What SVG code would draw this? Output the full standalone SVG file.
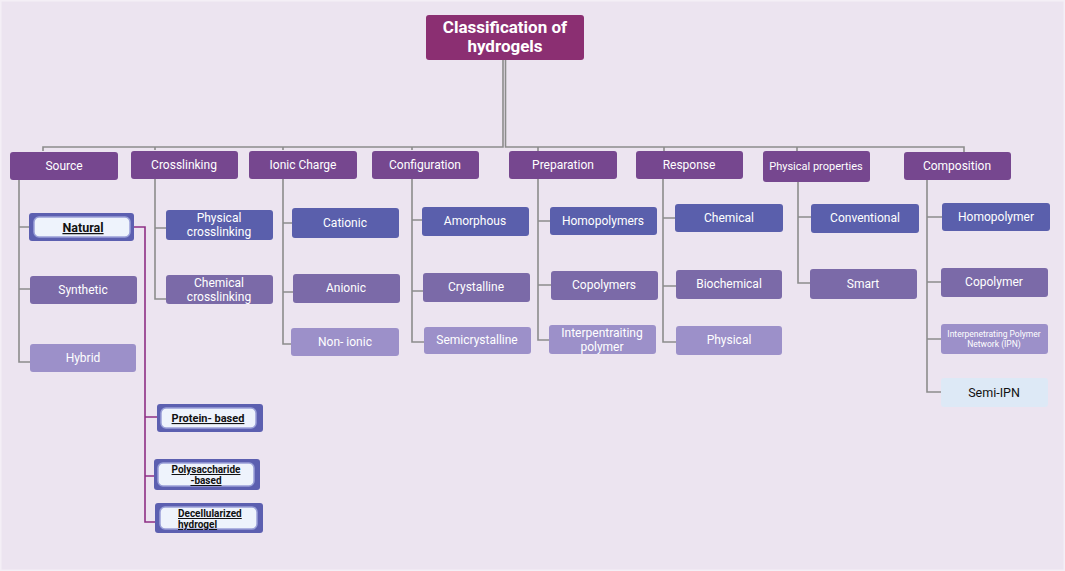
<svg xmlns="http://www.w3.org/2000/svg" width="1065" height="571" viewBox="0 0 1065 571">
<defs>
<style>
.bg{fill:#ece4f0}
.cat{fill:#76478f}
.r1{fill:#5a5fac}
.r2{fill:#7b6aa8}
.r3{fill:#9c90c9}
.t{font-family:Roboto,"Liberation Sans",sans-serif;font-size:12px;fill:#ffffff;text-anchor:middle}
.tb{font-family:Roboto,"Liberation Sans",sans-serif;font-weight:bold;fill:#111111;text-decoration:underline}
.ln{stroke:#8c8c8c;stroke-width:1.6;fill:none}
.pl{stroke:#8e2f85;stroke-width:1.6;fill:none}
.sp{fill:#5c5fb0}
.spi{fill:#eef3fc;stroke:#9aa0d8;stroke-width:1.5}
</style>
</defs>
<rect class="bg" x="0" y="0" width="1065" height="571"/>
<rect x="0.75" y="0.75" width="1063.5" height="569.5" fill="none" stroke="#f4eff6" stroke-width="1.5"/>

<g id="connectors">
<path class="ln" d="M503 60 V147 H43 V151 M155 147 V150 M283 147 V150 M412 147 V150"/>
<path class="ln" d="M505.5 60 V147 H964 V152 M538 147 V151 M664 147 V151 M797 147 V151"/>
<path class="ln" d="M19 180 V362 H30 M19 227 H29 M19 289 H30"/>
<path class="ln" d="M155 178 V299 H166 M155 228 H166"/>
<path class="ln" d="M283 178 V344 H291 M283 223 H292 M283 292 H293"/>
<path class="ln" d="M412 178 V342 H424 M412 220 H422 M412 291 H423"/>
<path class="ln" d="M538 179 V340 H549 M538 221 H550 M538 285 H551"/>
<path class="ln" d="M663 179 V342 H676 M663 218 H675 M663 286 H676"/>
<path class="ln" d="M798 181 V283 H810 M798 217 H811"/>
<path class="ln" d="M927 180 V392 H941 M927 217 H942 M927 282 H941 M927 339 H941"/>
<path class="pl" d="M134 227 H145 V522 H155 M145 417 H157 M145 476 H154"/>
</g>

<g id="title">
<rect x="426" y="15" width="158" height="45" rx="3" fill="#8b2f72"/>
<text x="505" y="33" font-family="Roboto,'Liberation Sans',sans-serif" font-size="17" font-weight="bold" fill="#fff" text-anchor="middle">Classification of</text>
<text x="505" y="52" font-family="Roboto,'Liberation Sans',sans-serif" font-size="17" font-weight="bold" fill="#fff" text-anchor="middle">hydrogels</text>
</g>

<g id="source"><rect class="cat" x="10" y="152" width="108" height="28" rx="3"/><text class="t" x="64" y="170">Source</text></g>
<g id="crosslinking"><rect class="cat" x="131" y="151" width="107" height="28" rx="3"/><text class="t" x="184" y="169">Crosslinking</text></g>
<g id="ionic-charge"><rect class="cat" x="249" y="151" width="108" height="28" rx="3"/><text class="t" x="303" y="169">Ionic Charge</text></g>
<g id="configuration"><rect class="cat" x="372" y="151" width="107" height="28" rx="3"/><text class="t" x="425" y="169">Configuration</text></g>
<g id="preparation"><rect class="cat" x="509" y="151" width="108" height="28" rx="3"/><text class="t" x="563" y="169">Preparation</text></g>
<g id="response"><rect class="cat" x="636" y="151" width="107" height="28" rx="3"/><text class="t" x="689" y="169">Response</text></g>
<g id="physical-properties"><rect class="cat" x="763" y="151" width="107" height="31" rx="3"/><text class="t" x="816" y="170" style="font-size:11px">Physical properties</text></g>
<g id="composition"><rect class="cat" x="904" y="152" width="107" height="28" rx="3"/><text class="t" x="957" y="170">Composition</text></g>

<g id="natural"><rect class="sp" x="29" y="213" width="105" height="28" rx="3"/><rect class="spi" x="34" y="217" width="96" height="20" rx="5"/><text class="tb" x="83" y="232" font-size="12.5" text-anchor="middle">Natural</text></g>
<g id="synthetic"><rect class="r2" x="30" y="276" width="107" height="28" rx="3"/><text class="t" x="83" y="294">Synthetic</text></g>
<g id="hybrid"><rect class="r3" x="30" y="344" width="106" height="28" rx="3"/><text class="t" x="83" y="362">Hybrid</text></g>

<g id="protein-based"><rect class="sp" x="157" y="404" width="106" height="28" rx="3"/><rect class="spi" x="161" y="408" width="95" height="20" rx="5"/><text class="tb" x="208" y="422" font-size="11" text-anchor="middle">Protein- based</text></g>
<g id="polysaccharide-based"><rect class="sp" x="154" y="459" width="106" height="31" rx="3"/><rect class="spi" x="158" y="463" width="96" height="23" rx="5"/><text class="tb" x="206" y="473" font-size="10" text-anchor="middle">Polysaccharide</text><text class="tb" x="206" y="484" font-size="10" text-anchor="middle">-based</text></g>
<g id="decellularized-hydrogel"><rect class="sp" x="155" y="503" width="108" height="30" rx="3"/><rect class="spi" x="160" y="507" width="97" height="22" rx="5"/><text class="tb" x="178" y="517" font-size="10">Decellularized </text><text class="tb" x="178" y="528" font-size="10">hydrogel</text></g>

<g id="physical-crosslinking"><rect class="r1" x="166" y="210" width="107" height="30" rx="3"/><text class="t" x="219" y="222">Physical</text><text class="t" x="219" y="236">crosslinking</text></g>
<g id="chemical-crosslinking"><rect class="r2" x="166" y="275" width="107" height="29" rx="3"/><text class="t" x="219" y="287">Chemical</text><text class="t" x="219" y="301">crosslinking</text></g>

<g id="cationic"><rect class="r1" x="292" y="208" width="107" height="30" rx="3"/><text class="t" x="345" y="227">Cationic</text></g>
<g id="anionic"><rect class="r2" x="293" y="274" width="107" height="29" rx="3"/><text class="t" x="346" y="292">Anionic</text></g>
<g id="non-ionic"><rect class="r3" x="291" y="328" width="108" height="28" rx="3"/><text class="t" x="345" y="346">Non- ionic</text></g>

<g id="amorphous"><rect class="r1" x="422" y="207" width="107" height="29" rx="3"/><text class="t" x="475" y="225">Amorphous</text></g>
<g id="crystalline"><rect class="r2" x="423" y="273" width="107" height="29" rx="3"/><text class="t" x="476" y="291">Crystalline</text></g>
<g id="semicrystalline"><rect class="r3" x="424" y="327" width="107" height="27" rx="3"/><text class="t" x="477" y="344">Semicrystalline</text></g>

<g id="homopolymers"><rect class="r1" x="550" y="207" width="107" height="28" rx="3"/><text class="t" x="603" y="225">Homopolymers</text></g>
<g id="copolymers"><rect class="r2" x="551" y="271" width="107" height="29" rx="3"/><text class="t" x="604" y="289">Copolymers</text></g>
<g id="interpentraiting-polymer"><rect class="r3" x="549" y="325" width="107" height="29" rx="3"/><text class="t" x="602" y="337">Interpentraiting</text><text class="t" x="602" y="351">polymer</text></g>

<g id="chemical"><rect class="r1" x="675" y="204" width="108" height="28" rx="3"/><text class="t" x="729" y="222">Chemical</text></g>
<g id="biochemical"><rect class="r2" x="676" y="270" width="106" height="29" rx="3"/><text class="t" x="729" y="288">Biochemical</text></g>
<g id="physical"><rect class="r3" x="676" y="326" width="106" height="29" rx="3"/><text class="t" x="729" y="344">Physical</text></g>

<g id="conventional"><rect class="r1" x="811" y="204" width="108" height="29" rx="3"/><text class="t" x="865" y="222">Conventional</text></g>
<g id="smart"><rect class="r2" x="810" y="269" width="107" height="30" rx="3"/><text class="t" x="863" y="288">Smart</text></g>

<g id="homopolymer"><rect class="r1" x="942" y="203" width="108" height="28" rx="3"/><text class="t" x="996" y="221">Homopolymer</text></g>
<g id="copolymer"><rect class="r2" x="941" y="268" width="107" height="29" rx="3"/><text class="t" x="994" y="286">Copolymer</text></g>
<g id="ipn"><rect class="r3" x="941" y="324" width="107" height="30" rx="3"/><text class="t" x="994" y="337" style="font-size:8.5px">Interpenetrating Polymer</text><text class="t" x="994" y="347" style="font-size:8.5px">Network (IPN)</text></g>
<g id="semi-ipn"><rect x="941" y="378" width="107" height="29" rx="3" fill="#dde9f6"/><text class="t" x="994" y="397" style="fill:#111111;font-size:12.5px">Semi-IPN</text></g>
</svg>
